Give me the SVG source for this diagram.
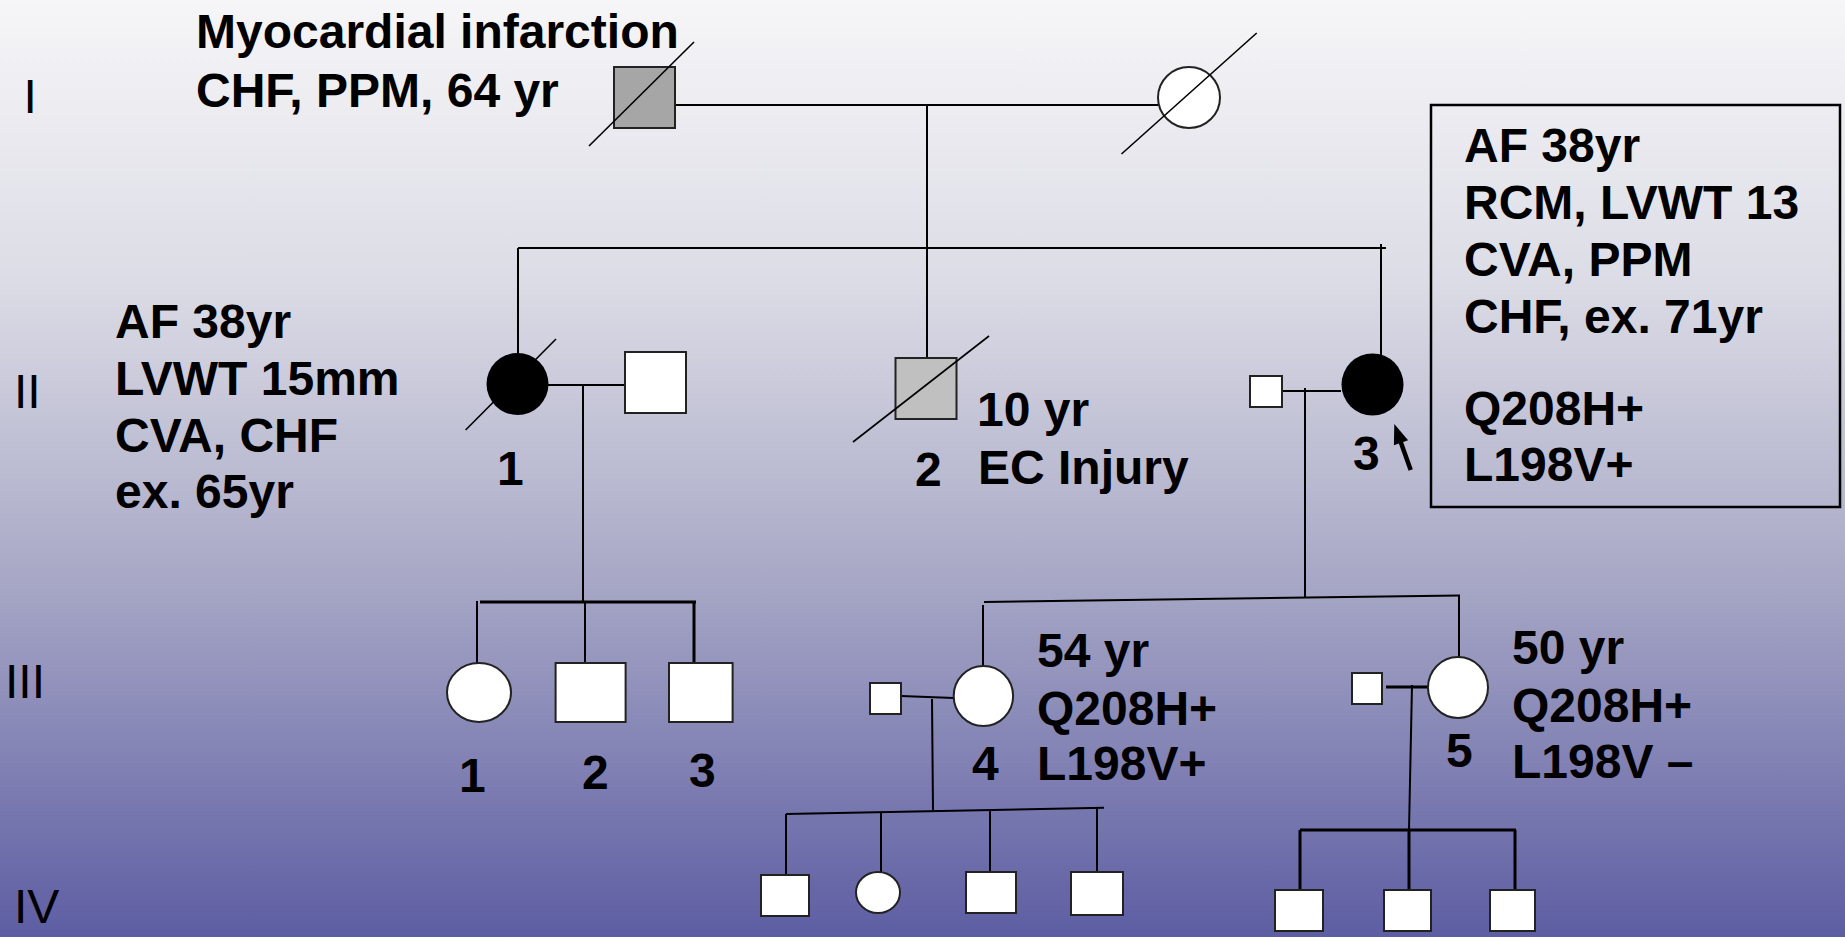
<svg xmlns="http://www.w3.org/2000/svg" width="1845" height="937" viewBox="0 0 1845 937">
<defs>
<linearGradient id="bg" x1="0" y1="0" x2="0" y2="1">
<stop offset="0" stop-color="#f6f6f8"/>
<stop offset="0.3" stop-color="#dcdce6"/>
<stop offset="0.6" stop-color="#ababc8"/>
<stop offset="1" stop-color="#5d5da3"/>
</linearGradient>
<style>
.t{font-family:"Liberation Sans",Arial,sans-serif;font-weight:bold;font-size:48px;fill:#000}
.r{font-family:"Liberation Sans",Arial,sans-serif;font-size:48px;fill:#000}
.ln{stroke:#000;stroke-width:2;fill:none}
.tk{stroke:#000;stroke-width:3;fill:none}
.sh{stroke:#222;stroke-width:2}
.w{fill:#fff}
.sl{stroke:#000;stroke-width:1.6}
</style>
</defs>
<rect x="0" y="0" width="1845" height="937" fill="url(#bg)"/>

<g id="generations">
<text class="r" x="23.5" y="113">I</text>
<text class="r" x="14" y="408">II</text>
<text class="r" x="5" y="698">III</text>
<text class="r" x="14" y="923">IV</text>
</g>

<g id="connectors">
<line class="ln" x1="675" y1="105" x2="1158" y2="105"/>
<line class="ln" x1="927" y1="105" x2="927" y2="358"/>
<line class="ln" x1="518" y1="248" x2="1386" y2="248"/>
<line class="ln" x1="1381" y1="244" x2="1381" y2="355"/>
<line class="ln" x1="518" y1="248" x2="518" y2="353"/>
<line class="ln" x1="548" y1="385" x2="625" y2="385"/>
<line class="ln" x1="583" y1="385" x2="583" y2="601"/>
<line class="tk" x1="480" y1="602" x2="696" y2="602"/>
<line class="ln" x1="477" y1="601" x2="477" y2="663"/>
<line class="ln" x1="585" y1="602" x2="585" y2="663"/>
<line class="tk" x1="694" y1="602" x2="694" y2="663"/>
<line class="ln" x1="1282" y1="391" x2="1341" y2="391"/>
<line class="ln" x1="1305" y1="388" x2="1305" y2="597"/>
<line class="ln" x1="984" y1="602" x2="1460" y2="595.5"/>
<line class="ln" x1="983" y1="605" x2="983" y2="666"/>
<line class="ln" x1="1459" y1="595.5" x2="1459" y2="657"/>
<line class="ln" x1="901" y1="696" x2="954" y2="698"/>
<line class="ln" x1="932" y1="699" x2="933" y2="810"/>
<line class="ln" x1="786" y1="814" x2="1104" y2="807.7"/>
<line class="ln" x1="786" y1="814" x2="786" y2="875"/>
<line class="ln" x1="881" y1="812" x2="881" y2="872"/>
<line class="ln" x1="990" y1="810" x2="990" y2="872"/>
<line class="ln" x1="1097" y1="808" x2="1097" y2="872"/>
<line class="tk" x1="1386" y1="687" x2="1428" y2="687"/>
<line class="ln" x1="1412" y1="685" x2="1409" y2="830"/>
<line class="tk" x1="1300" y1="830" x2="1516" y2="830"/>
<line class="tk" x1="1300" y1="830" x2="1300" y2="890"/>
<line class="tk" x1="1409" y1="830" x2="1409" y2="890"/>
<line class="tk" x1="1515" y1="830" x2="1515" y2="890"/>
</g>

<g id="I-1">
<rect class="sh" x="614" y="67" width="61" height="61" fill="#a6a6a6"/>
<line class="sl" x1="589" y1="146" x2="694" y2="42"/>
<text class="t" x="196" y="48">Myocardial infarction</text>
<text class="t" x="196" y="107">CHF, PPM, 64 yr</text>
</g>

<g id="I-2">
<ellipse class="sh w" cx="1189" cy="97.5" rx="31" ry="30.5"/>
<line class="sl" x1="1121.5" y1="154" x2="1256.7" y2="33"/>
</g>

<g id="II-1">
<ellipse cx="517.5" cy="384" rx="31" ry="31" fill="#000"/>
<line class="sl" x1="465.6" y1="430" x2="556" y2="339"/>
<text class="t" x="497" y="485">1</text>
<text class="t" x="115" y="338">AF 38yr</text>
<text class="t" x="115" y="395">LVWT 15mm</text>
<text class="t" x="115" y="452">CVA, CHF</text>
<text class="t" x="115" y="508">ex. 65yr</text>
</g>

<g id="II-1-spouse">
<rect class="sh w" x="625" y="352" width="61" height="61"/>
</g>

<g id="II-2">
<rect class="sh" x="895.5" y="358" width="61" height="61" fill="#c0c0c0"/>
<line class="sl" x1="853" y1="442" x2="989" y2="336"/>
<text class="t" x="915" y="486">2</text>
<text class="t" x="977" y="426">10 yr</text>
<text class="t" x="978" y="484">EC Injury</text>
</g>

<g id="II-3">
<ellipse cx="1372.5" cy="384.5" rx="31" ry="31" fill="#000"/>
<text class="t" x="1353" y="470">3</text>
<line x1="1410.7" y1="470" x2="1400" y2="440" stroke="#000" stroke-width="4.5"/>
<polygon points="1394.3,424 1408.1,440.3 1393.9,445.3" fill="#000"/>
</g>

<g id="II-3-spouse">
<rect class="sh w" x="1250" y="376" width="32" height="31"/>
</g>

<g id="II-3-info">
<rect x="1431" y="105" width="409" height="402" fill="none" stroke="#000" stroke-width="2.5"/>
<text class="t" x="1464" y="162">AF 38yr</text>
<text class="t" x="1464" y="219">RCM, LVWT 13</text>
<text class="t" x="1464" y="276">CVA, PPM</text>
<text class="t" x="1464" y="333">CHF, ex. 71yr</text>
<text class="t" x="1464" y="425">Q208H+</text>
<text class="t" x="1464" y="481">L198V+</text>
</g>

<g id="III-1">
<ellipse class="sh w" cx="479" cy="692.5" rx="32" ry="29.5"/>
<text class="t" x="459" y="792">1</text>
</g>
<g id="III-2">
<rect class="sh w" x="555.6" y="663" width="70" height="59"/>
<text class="t" x="582" y="789">2</text>
</g>
<g id="III-3">
<rect class="sh w" x="669" y="663" width="63.6" height="59"/>
<text class="t" x="689" y="787">3</text>
</g>

<g id="III-4">
<ellipse class="sh w" cx="983.4" cy="696" rx="29.7" ry="30"/>
<text class="t" x="972" y="780">4</text>
<text class="t" x="1037" y="667">54 yr</text>
<text class="t" x="1037" y="725">Q208H+</text>
<text class="t" x="1037" y="780">L198V+</text>
</g>
<g id="III-4-spouse">
<rect class="sh w" x="870" y="683" width="31" height="31"/>
</g>

<g id="III-5">
<ellipse class="sh w" cx="1458" cy="687.5" rx="30" ry="30.5"/>
<text class="t" x="1446" y="767">5</text>
<text class="t" x="1512" y="664">50 yr</text>
<text class="t" x="1512" y="722">Q208H+</text>
<text class="t" x="1512" y="778">L198V –</text>
</g>
<g id="III-5-spouse">
<rect class="sh w" x="1352" y="673" width="30" height="31"/>
</g>

<g id="IV-1"><rect class="sh w" x="761" y="875" width="48" height="41"/></g>
<g id="IV-2"><ellipse class="sh w" cx="878" cy="892.5" rx="22" ry="20.5"/></g>
<g id="IV-3"><rect class="sh w" x="966" y="872" width="50" height="41"/></g>
<g id="IV-4"><rect class="sh w" x="1071" y="872" width="52" height="43"/></g>
<g id="IV-5"><rect class="sh w" x="1275" y="890" width="48" height="41"/></g>
<g id="IV-6"><rect class="sh w" x="1384" y="890" width="47" height="41"/></g>
<g id="IV-7"><rect class="sh w" x="1490" y="890" width="45" height="41"/></g>
</svg>
